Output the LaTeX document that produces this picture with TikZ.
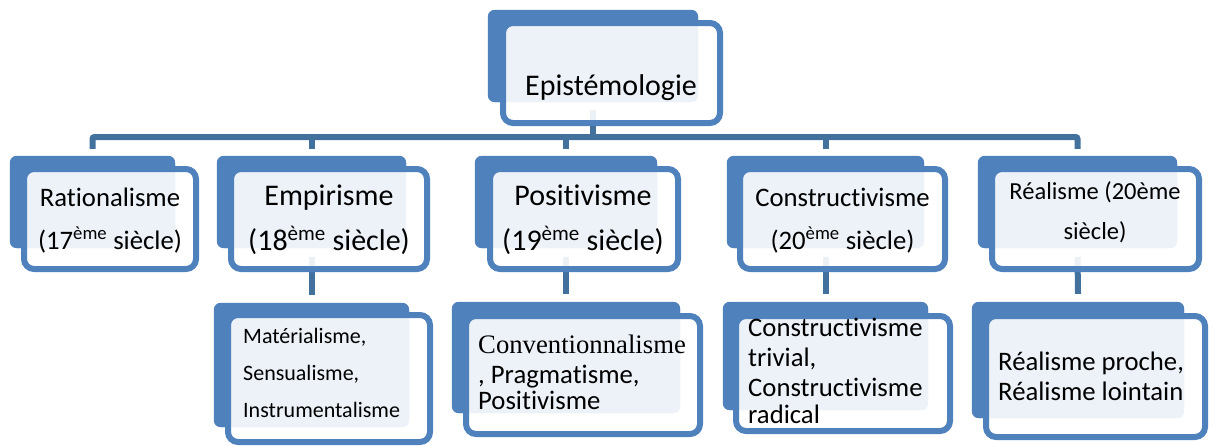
\documentclass[tikz,border=0pt]{standalone}
\usepackage{fontspec}
\setmainfont{Carlito}[Ligatures=NoCommon]
\newfontfamily\timesfont{Liberation Serif}
\usepackage{tikz}
\usetikzlibrary{calc}
\definecolor{boxblue}{HTML}{4F81BD}
\definecolor{linkblue}{HTML}{41719C}

\begin{document}
\begin{tikzpicture}[
    x=1pt, y=-1pt,
    back/.style={
		rectangle,
		rounded corners=7pt,
		fill=boxblue,
		inner sep=0pt
	},
	front/.style={
		rectangle,
		rounded corners=10pt,
		draw=boxblue,
		line width=6pt,
		fill=white,
		fill opacity=0.9,
		inner sep=0pt
	},
	link/.style={
		draw=linkblue,
		line width=6pt
	},
	lbl/.style={
		inner sep=0pt,
		text=black,
		align=center
	},
	lbll/.style={
		inner sep=0pt,
		text=black,
		align=left
	}
  ]
 \useasboundingbox (0,0) rectangle (1214,445);

% // back boxes
 \node [back, minimum width=210pt, minimum height=92pt] (epiB) at (593,56) {};
 \node [back, minimum width=165pt, minimum height=92pt] (ratB) at (92.5,202) {};
 \node [back, minimum width=189pt, minimum height=92pt] (empB) at (311.5,202) {};
 \node [back, minimum width=182pt, minimum height=92pt] (posB) at (566,202) {};
 \node [back, minimum width=197pt, minimum height=92pt] (conB) at (825.5,202) {};
 \node [back, minimum width=199pt, minimum height=92pt] (reaB) at (1077.5,202) {};
 \node [back, minimum width=195pt, minimum height=124pt] (matB) at (311.5,365) {};
 \node [back, minimum width=228pt, minimum height=111pt] (cvnB) at (566,357.5) {};
 \node [back, minimum width=205pt, minimum height=108pt] (ctrB) at (825.5,356) {};
 \node [back, minimum width=212pt, minimum height=116pt] (rprB) at (1078,360) {};

% // connectors
 \coordinate (hub) at (593,137);
 \draw [link] ([yshift=-8pt]epiB.south) -- (hub);
 \draw [link, rounded corners=2pt] ([yshift=7pt]ratB.north) |- (hub) -| ([yshift=7pt]reaB.north);
 \foreach \c in {empB,posB,conB}
   \draw [link] ([yshift=7pt]\c.north) -- (\c.north |- hub);
 \draw [link] ([yshift=-9pt]empB.south) -- ([yshift=8pt]matB.north);
 \draw [link] ([yshift=-9pt]posB.south) -- ([yshift=8pt]cvnB.north);
 \draw [link] ([yshift=-9pt]conB.south) -- ([yshift=8pt]ctrB.north);
 \draw [link] ([yshift=-9pt]reaB.south) -- ([yshift=8pt]rprB.north);

% // back boxes again, over the connectors
 \foreach \c in {epiB,ratB,empB,posB,conB,reaB,matB,cvnB,ctrB,rprB}
   \fill [boxblue, rounded corners=7pt] (\c.north west) rectangle (\c.south east);

% // front boxes
 \node [front, minimum width=217pt, minimum height=100pt] (epi) at (611.5,73) {};
 \node [front, minimum width=172pt, minimum height=100pt] (rat) at (110,219) {};
 \node [front, minimum width=196pt, minimum height=100pt] (emp) at (329,219) {};
 \node [front, minimum width=188pt, minimum height=100pt] (pos) at (584,219) {};
 \node [front, minimum width=205pt, minimum height=100pt] (con) at (842.5,219) {};
 \node [front, minimum width=207pt, minimum height=100pt] (rea) at (1095.5,219) {};
 \node [front, minimum width=202pt, minimum height=127pt] (mat) at (329,378.5) {};
 \node [front, minimum width=234pt, minimum height=118pt] (cvn) at (583,375) {};
 \node [front, minimum width=214pt, minimum height=115pt] (ctr) at (843,373.5) {};
 \node [front, minimum width=219pt, minimum height=121pt] (rpr) at (1095.5,376.5) {};

% // texts (base = last line)
 \node [lbl, anchor=base, font=\fontsize{30}{36}\selectfont] (epiT) at (611,95) {Epistémologie};
 \node [lbl, anchor=base, font=\fontsize{26.7}{43}\selectfont] (ratT) at (110,249)
 {Rationalisme\\(17\textsuperscript{ème} siècle)};
 \node [lbl, anchor=base, font=\fontsize{30}{45}\selectfont] (empT) at (329,250)
 {Empirisme\\(18\textsuperscript{ème} siècle)};
 \node [lbl, anchor=base, font=\fontsize{30}{45}\selectfont] (posT) at (583,250)
 {Positivisme\\(19\textsuperscript{ème} siècle)};
 \node [lbl, anchor=base, font=\fontsize{26.7}{43}\selectfont] (conT) at (842.5,249)
 {Constructivisme\\(20\textsuperscript{ème} siècle)};
 \node [lbl, anchor=base, font=\fontsize{24.5}{40}\selectfont] (reaT) at (1095,239)
 {Réalisme (20ème\\siècle)};
 \node [lbll, anchor=base west, font=\fontsize{22}{37}\selectfont] (matT) at (243,417)
 {Matérialisme,\\Sensualisme,\\Instrumentalisme};
 \node [lbll, anchor=base west, font=\fontsize{26.7}{30}\selectfont] (cvnT) at (478,409)
 {{\timesfont Conventionnalisme}\\, Pragmatisme,\\[-4pt]Positivisme};
 \node [lbll, anchor=base west, font=\fontsize{26.7}{30}\selectfont] (ctrT) at (748,423)
 {Constructivisme\\trivial,\\Constructivisme\\[-3pt]radical};
 \node [lbll, anchor=base west, font=\fontsize{26.7}{30}\selectfont] (rprT) at (998,400)
 {Réalisme proche,\\Réalisme lointain};

\end{tikzpicture}
\end{document}
